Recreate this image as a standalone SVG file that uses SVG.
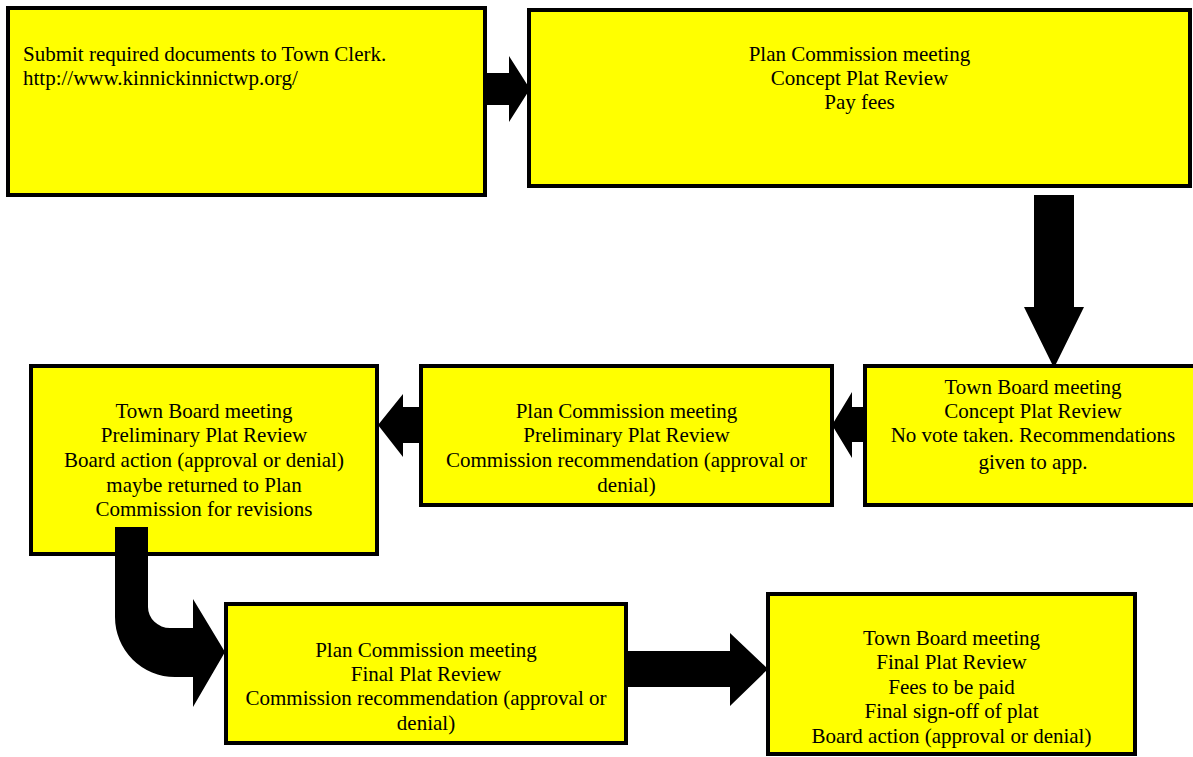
<svg xmlns="http://www.w3.org/2000/svg" width="1193" height="757" viewBox="0 0 1193 757">
<style>
.box{fill:#ffff00;stroke:#000;stroke-width:4}
text{font-family:"Liberation Serif","Times New Roman",serif;font-size:21px;fill:#000}
.c{text-anchor:middle}
.arrow{fill:#000;stroke:none}
</style>
<rect width="1193" height="757" fill="#fff"/>
<g id="n1">
<rect class="box" x="8" y="8" width="477" height="187"/>
<text x="23" y="61">Submit required documents to Town Clerk.</text>
<text x="23" y="85">http://www.kinnickinnictwp.org/</text>
</g>
<g id="n2">
<rect class="box" x="529" y="10" width="661" height="176"/>
<text class="c" x="859.5" y="61">Plan Commission meeting</text>
<text class="c" x="859.5" y="85">Concept Plat Review</text>
<text class="c" x="859.5" y="109">Pay fees</text>
</g>
<g id="n3">
<rect class="box" x="865" y="366" width="336" height="139"/>
<text class="c" x="1033" y="394">Town Board meeting</text>
<text class="c" x="1033" y="418">Concept Plat Review</text>
<text class="c" x="1033" y="442">No vote taken. Recommendations</text>
<text class="c" x="1033" y="469">given to app.</text>
</g>
<g id="n4">
<rect class="box" x="421" y="366" width="411" height="139"/>
<text class="c" x="626.5" y="418">Plan Commission meeting</text>
<text class="c" x="626.5" y="442">Preliminary Plat Review</text>
<text class="c" x="626.5" y="467">Commission recommendation (approval or</text>
<text class="c" x="626.5" y="492">denial)</text>
</g>
<g id="n5">
<rect class="box" x="31" y="366" width="346" height="188"/>
<text class="c" x="204" y="418">Town Board meeting</text>
<text class="c" x="204" y="442">Preliminary Plat Review</text>
<text class="c" x="204" y="467">Board action (approval or denial)</text>
<text class="c" x="204" y="492">maybe returned to Plan</text>
<text class="c" x="204" y="516">Commission for revisions</text>
</g>
<g id="n6">
<rect class="box" x="226" y="604" width="400" height="139"/>
<text class="c" x="426" y="657">Plan Commission meeting</text>
<text class="c" x="426" y="681">Final Plat Review</text>
<text class="c" x="426" y="705">Commission recommendation (approval or</text>
<text class="c" x="426" y="730">denial)</text>
</g>
<g id="n7">
<rect class="box" x="768" y="594" width="367" height="160"/>
<text class="c" x="951.5" y="645">Town Board meeting</text>
<text class="c" x="951.5" y="669">Final Plat Review</text>
<text class="c" x="951.5" y="694">Fees to be paid</text>
<text class="c" x="951.5" y="718">Final sign-off of plat</text>
<text class="c" x="951.5" y="743">Board action (approval or denial)</text>
</g>
<g id="connectors">
<path class="arrow" d="M486,73 H509 V56 L530,89 L509,122 V105 H486 Z"/>
<path class="arrow" d="M1034,195 H1074 V307 H1084 L1054,368 L1024,307 H1034 Z"/>
<path class="arrow" d="M863,407 H852 V392 L832,425 L852,458 V442 H863 Z"/>
<path class="arrow" d="M421,407 H403 V394 L378,425 L403,457 V443 H421 Z"/>
<path class="arrow" d="M115,527 V617 A60,60 0 0 0 175,677 H193 V707 L225,652 L193,599 V628 H170 A22,21 0 0 1 148,607 V527 Z"/>
<path class="arrow" d="M627,651 H730 V633 L768,669 L730,706 V687 H627 Z"/>
</g>
</svg>
